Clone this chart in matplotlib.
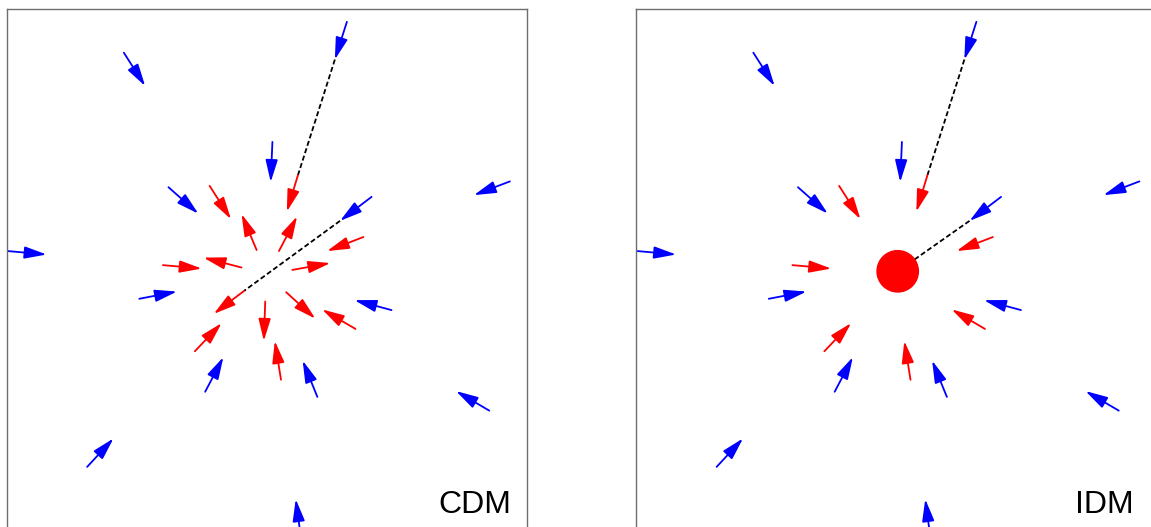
import matplotlib
matplotlib.use('Agg')
from matplotlib import pyplot as plt
from matplotlib.patches import FancyArrowPatch, Circle

# box is 10 x 10 units, (x0, y0) = tail, (x1, y1) = head
# blue arrows: same in both panels
blue_x0 = [6.536, 2.253, 5.106, 9.666, 3.110, 7.010, 0.026, 2.550, 7.392, 3.815, 5.969, 9.270, 1.548, 5.653]
blue_y0 = [9.750, 9.157, 7.444, 6.686, 6.574, 6.389, 5.348, 4.432, 4.215, 2.647, 2.548, 2.284, 1.204, -0.154]
blue_x1 = [6.305, 2.662, 5.073, 8.974, 3.683, 6.404, 0.771, 3.274, 6.681, 4.164, 5.686, 8.631, 2.055, 5.554]
blue_y1 = [9.025, 8.518, 6.673, 6.422, 6.067, 5.928, 5.282, 4.571, 4.406, 3.312, 3.246, 2.660, 1.751, 0.585]

# red arrows kept in both panels
red_x0 = [5.600, 3.900, 6.852, 3.004, 6.701, 3.617, 5.271]
red_y0 = [6.818, 6.600, 5.618, 5.078, 3.853, 3.424, 2.877]
red_x1 = [5.383, 4.309, 6.154, 3.749, 6.061, 4.131, 5.152]
red_y1 = [6.106, 5.961, 5.348, 5.012, 4.228, 3.965, 3.622]

# red arrows only in CDM (merged into the core in IDM)
cdm_x0 = [4.572, 4.803, 5.231, 4.513, 5.488, 5.370, 4.968]
cdm_y0 = [4.591, 5.368, 5.348, 5.032, 4.986, 4.558, 4.380]
cdm_x1 = [3.979, 4.513, 5.580, 3.782, 6.219, 5.930, 4.941]
cdm_y1 = [4.142, 6.060, 6.014, 5.223, 5.118, 4.050, 3.622]

# dashed tracks
track1_x = [6.305, 5.600]
track1_y = [9.025, 6.818]
cdm_track2_x = [6.404, 4.572]
cdm_track2_y = [5.928, 4.591]
core_x, core_y, core_r = 5.025, 4.960, 0.397
idm_track2_x = [6.404, core_x]
idm_track2_y = [5.928, core_y]

labels = ['CDM', 'IDM']


def arrows(ax, x0, y0, x1, y1, color):
    for a, b, c, d in zip(x0, y0, x1, y1):
        p = FancyArrowPatch((a, b), (c, d),
                            arrowstyle='-|>,head_length=1.35,head_width=0.37',
                            mutation_scale=10, lw=1.3, color=color,
                            shrinkA=0, shrinkB=0, clip_on=False)
        ax.add_patch(p)


def setup(ax, label):
    ax.set_xlim(0, 10)
    ax.set_ylim(0, 10)
    ax.set_xticks([])
    ax.set_yticks([])
    for s in ax.spines.values():
        s.set_color('#6e6e6e')
        s.set_linewidth(1.0)
    ax.text(0.900, 0.032, label, transform=ax.transAxes, ha='center',
            va='baseline', fontsize=23, family=['Liberation Sans', 'DejaVu Sans'])


fig = plt.figure(figsize=(11.51, 5.27), dpi=100)
W, H = 1151., 527.
ax1 = fig.add_axes([6.5 / W, -2.6 / H, 520.8 / W, 520.8 / H])
ax2 = fig.add_axes([636. / W, -2.6 / H, 520.8 / W, 520.8 / H])

dash = dict(color='black', lw=1.3, dashes=(2.8, 1.5))

# CDM
setup(ax1, labels[0])
ax1.plot(track1_x, track1_y, **dash)
ax1.plot(cdm_track2_x, cdm_track2_y, **dash)
arrows(ax1, blue_x0, blue_y0, blue_x1, blue_y1, '#0000ff')
arrows(ax1, red_x0, red_y0, red_x1, red_y1, '#ff0000')
arrows(ax1, cdm_x0, cdm_y0, cdm_x1, cdm_y1, '#ff0000')

# IDM
setup(ax2, labels[1])
ax2.plot(track1_x, track1_y, **dash)
ax2.plot(idm_track2_x, idm_track2_y, **dash)
ax2.add_patch(Circle((core_x, core_y), core_r, color='#ff0000', zorder=3))
arrows(ax2, blue_x0, blue_y0, blue_x1, blue_y1, '#0000ff')
arrows(ax2, red_x0, red_y0, red_x1, red_y1, '#ff0000')

fig.savefig('out.png', dpi=100)
